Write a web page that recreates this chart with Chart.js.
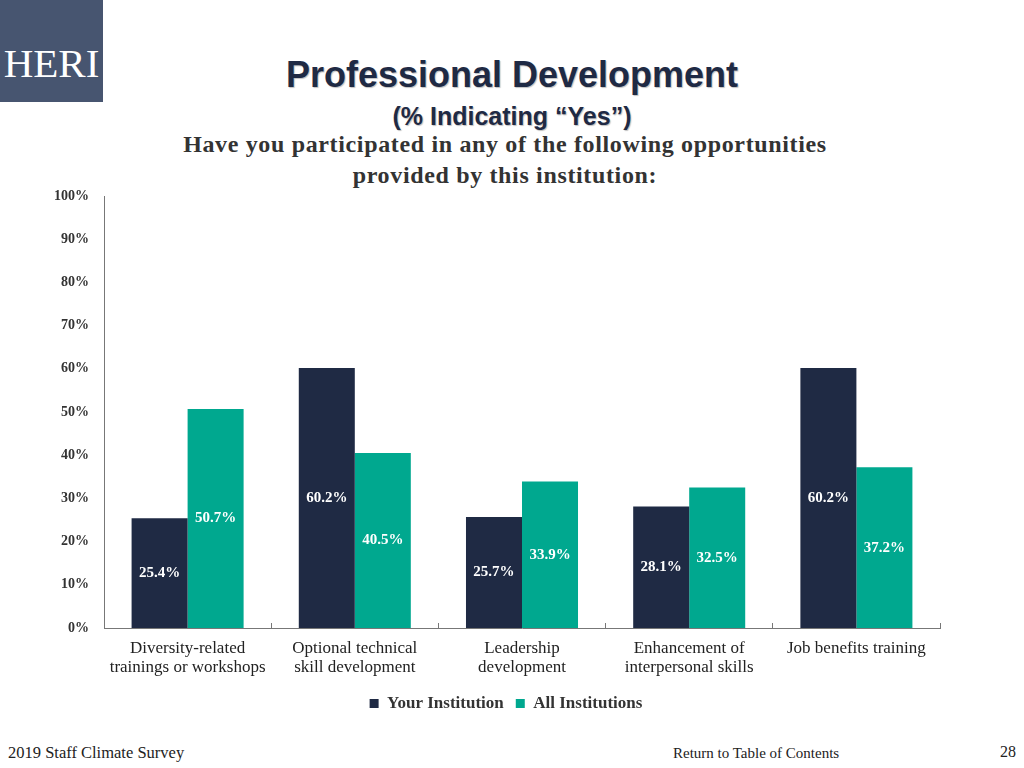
<!DOCTYPE html>
<html>
<head>
<meta charset="utf-8">
<script src="https://cdn.jsdelivr.net/npm/chart.js@4.4.1/dist/chart.umd.min.js"></script>
<style>
  html, body { margin: 0; padding: 0; background: #fff; }
  body { width: 1024px; height: 768px; position: relative; overflow: hidden; }
  .logo {
    position: absolute; left: 0; top: 0; width: 103px; height: 102px;
    background: #475570; color: #fff;
    font-family: "Liberation Serif", serif; font-size: 41px;
    text-align: center; line-height: 126px;
  }
  .title {
    position: absolute; left: 0; width: 1024px; text-align: center;
    font-family: "Liberation Sans Narrow", "Liberation Sans", Arial, sans-serif;
    font-weight: bold; color: #1f2a44;
    text-shadow: 1px 1px 1px rgba(0,0,0,0.25);
  }
  .t1 { top: 54px; font-size: 36px; }
  .t2 { top: 102px; font-size: 25px; }
  .sub {
    position: absolute; left: -7px; width: 1024px; top: 129px; text-align: center;
    font-family: "Liberation Serif", serif; font-weight: bold; font-size: 24px;
    letter-spacing: 0.65px; color: #333; line-height: 31px;
  }
  .foot { position: absolute; font-family: "Liberation Serif", serif; color: #222; }
  #wrap { position: absolute; left: 0; top: 180px; width: 1024px; height: 545px; }
</style>
</head>
<body>
<div class="logo">HERI</div>
<div class="title t1">Professional Development</div>
<div class="title t2">(% Indicating “Yes”)</div>
<div class="sub">Have you participated in any of the following opportunities<br>provided by this institution:</div>
<div id="wrap"><canvas id="myChart"></canvas></div>
<div class="foot" style="left:8px; top:743px; font-size:16.5px;">2019 Staff Climate Survey</div>
<div class="foot" style="left:673px; top:745px; font-size:15px;">Return to Table of Contents</div>
<div class="foot" style="left:1000px; top:743px; font-size:16px;">28</div>

<script>
var categories = [
  ["Diversity-related", "trainings or workshops"],
  ["Optional technical", "skill development"],
  ["Leadership", "development"],
  ["Enhancement of", "interpersonal skills"],
  "Job benefits training"
];
var yourInst = [25.4, 60.2, 25.7, 28.1, 60.2];
var allInst = [50.7, 40.5, 33.9, 32.5, 37.2];
var yTicks = [0, 10, 20, 30, 40, 50, 60, 70, 80, 90, 100];

const serif = "'Liberation Serif', serif";

// white value labels in the middle of each bar
const midLabels = {
  id: "midLabels",
  afterDatasetsDraw(chart) {
    const ctx = chart.ctx;
    ctx.save();
    ctx.fillStyle = "#ffffff";
    ctx.font = "bold 15px " + serif;
    ctx.textAlign = "center";
    ctx.textBaseline = "middle";
    chart.data.datasets.forEach((ds, i) => {
      chart.getDatasetMeta(i).data.forEach((bar, j) => {
        const y = (bar.y + bar.base) / 2;
        ctx.fillText(ds.data[j].toFixed(1) + "%", bar.x, y);
      });
    });
    ctx.restore();
  }
};

// nudge legend a bit to the right, like the slide
const legendShift = {
  id: "legendShift",
  afterLayout(chart) {
    if (chart.legend) {
      chart.legend.left += 16;
      chart.legend.right += 16;
    }
  }
};

const ctx = document.getElementById("myChart").getContext("2d");

const myChart = new Chart(ctx, {
  type: "bar",
  data: {
    labels: categories,
    datasets: [
      {
        label: "Your Institution",
        data: yourInst,
        backgroundColor: "#1f2a44",
        barPercentage: 1,
        categoryPercentage: 0.67
      },
      {
        label: "All Institutions",
        data: allInst,
        backgroundColor: "#00a88f",
        barPercentage: 1,
        categoryPercentage: 0.67
      }
    ]
  },
  options: {
    responsive: true,
    maintainAspectRatio: false,
    animation: false,
    layout: { padding: { left: 40, right: 84, top: 16, bottom: 3 } },
    plugins: {
      tooltip: { enabled: false },
      legend: {
        position: "bottom",
        labels: {
          font: { family: serif, size: 17, weight: "bold" },
          color: "#333",
          boxWidth: 9,
          boxHeight: 9,
          padding: 12
        }
      }
    },
    scales: {
      x: {
        grid: { display: true, drawOnChartArea: false, offset: true, tickLength: -5, color: "#777" },
        border: { color: "#777", width: 1 },
        ticks: {
          font: { family: serif, size: 17, lineHeight: 1.12 },
          color: "#222",
          padding: 16,
          maxRotation: 0,
          autoSkip: false
        },
        afterFit: (s) => { s.height = 55; }
      },
      y: {
        min: 0,
        max: 100,
        afterBuildTicks: (s) => { s.ticks = yTicks.map((v) => ({ value: v })); },
        grid: { display: false },
        border: { color: "#777", width: 1 },
        ticks: {
          font: { family: serif, size: 14, weight: "bold" },
          color: "#333",
          padding: 7,
          callback: (v) => v + "%"
        },
        afterFit: (s) => { s.width = 64; }
      }
    }
  },
  plugins: [midLabels, legendShift]
});
</script>
</body>
</html>
